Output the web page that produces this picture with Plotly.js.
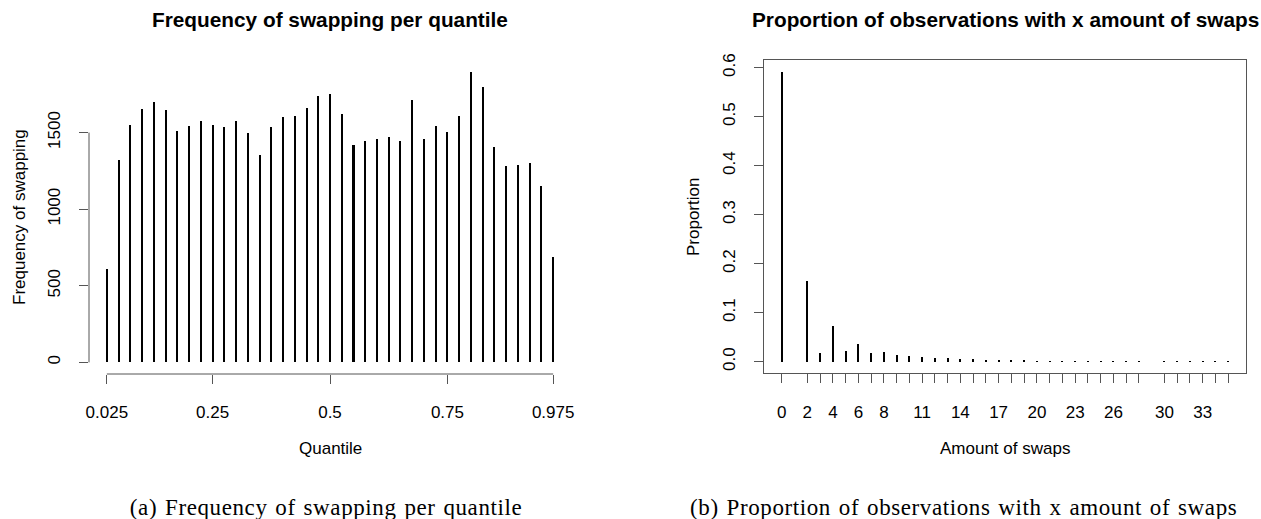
<!DOCTYPE html>
<html>
<head>
<meta charset="utf-8">
<script src="https://cdn.plot.ly/plotly-3.0.1.min.js"></script>
<style>
  html, body { margin: 0; padding: 0; background: #fff; }
  #chart { width: 1261px; height: 519px; }
  /* wider set for the serif sub-figure captions */
  #chart text.annotation-text[data-unformatted^="("] { letter-spacing: 0.6px; word-spacing: 1.5px; }
</style>
</head>
<body>
<div id="chart"></div>
<script>
// Panel (a): swapping frequency per quantile
const quantiles = [0.025, 0.05, 0.075, 0.1, 0.125, 0.15, 0.175, 0.2, 0.225, 0.25,
                   0.275, 0.3, 0.325, 0.35, 0.375, 0.4, 0.425, 0.45, 0.475, 0.5,
                   0.525, 0.55, 0.575, 0.6, 0.625, 0.65, 0.675, 0.7, 0.725, 0.75,
                   0.775, 0.8, 0.825, 0.85, 0.875, 0.9, 0.925, 0.95, 0.975];
const swapFrequency = [608, 1319, 1552, 1656, 1700, 1650, 1508, 1543, 1578, 1552,
                       1537, 1578, 1495, 1352, 1537, 1600, 1606, 1663, 1742, 1754,
                       1624, 1422, 1445, 1458, 1471, 1445, 1715, 1458, 1543, 1502,
                       1606, 1898, 1798, 1409, 1282, 1289, 1302, 1154, 687];
const quantileTicks = [0.025, 0.25, 0.5, 0.75, 0.975];
const quantileTickText = ['0.025', '0.25', '0.5', '0.75', '0.975'];
const frequencyTicks = [0, 500, 1000, 1500];

// Panel (b): share of observations by number of swaps
const swapCounts = [0, 2, 3, 4, 5, 6, 7, 8, 9, 10, 11, 12, 13, 14, 15, 16, 17, 18,
                    19, 20, 21, 22, 23, 24, 25, 26, 27, 28, 30, 31, 32, 33, 34, 35];
const swapProportion = [0.592, 0.164, 0.018, 0.073, 0.022, 0.036, 0.018, 0.020,
                        0.013, 0.011, 0.009, 0.008, 0.007, 0.006, 0.005, 0.004,
                        0.0035, 0.003, 0.003, 0.002, 0.0015, 0.0012, 0.0012, 0.001,
                        0.001, 0.001, 0.001, 0.001, 0.001, 0.001, 0.001, 0.001,
                        0.001, 0.001];
const swapTickText = ['0', '2', '', '4', '', '6', '', '8', '', '', '11', '', '',
                      '14', '', '', '17', '', '', '20', '', '', '23', '', '', '26',
                      '', '', '30', '', '', '33', '', ''];
const proportionTicks = [0, 0.1, 0.2, 0.3, 0.4, 0.5, 0.6];

const W = 1261, H = 519;
const SANS = 'Liberation Sans, Arial, sans-serif';
const SERIF = 'Liberation Serif, Times New Roman, serif';
const AXIS_COLOR = '#555';

// plot regions in pixels
const leftBox = { x0: 89, x1: 571, y0: 60, y1: 374 };
const rightBox = { x0: 764, x1: 1246, y0: 60, y1: 373.3 };
const px = v => v / W;
const py = v => 1 - v / H;

// R-style 4% padding around the data range
function padded(lo, hi) {
  const d = (hi - lo) * 0.04;
  return [lo - d, hi + d];
}

const tickFont = { family: SANS, size: 17, color: '#000' };
const commonAxis = {
  showgrid: false, zeroline: false, ticks: 'outside', ticklen: 9,
  tickwidth: 1, tickcolor: AXIS_COLOR, tickfont: tickFont, fixedrange: true
};

const traces = [
  {
    type: 'bar', x: quantiles, y: swapFrequency, xaxis: 'x', yaxis: 'y',
    width: 0.0043, marker: { color: '#000', line: { width: 0 } }, hoverinfo: 'x+y'
  },
  {
    type: 'bar', x: swapCounts, y: swapProportion, xaxis: 'x2', yaxis: 'y2',
    width: 0.17, marker: { color: '#000', line: { width: 0 } }, hoverinfo: 'x+y'
  }
];

const layout = {
  width: W, height: H,
  margin: { l: 0, r: 0, t: 0, b: 0 },
  paper_bgcolor: '#fff', plot_bgcolor: '#fff',
  showlegend: false, bargap: 0,
  xaxis: Object.assign({}, commonAxis, {
    domain: [px(leftBox.x0), px(leftBox.x1)], anchor: 'y',
    range: padded(quantiles[0], quantiles[quantiles.length - 1]),
    tickmode: 'array', tickvals: quantileTicks, ticktext: quantileTickText,
    showline: false, ticklabelstandoff: 14
  }),
  yaxis: Object.assign({}, commonAxis, {
    domain: [py(leftBox.y1), py(leftBox.y0)], anchor: 'x',
    range: padded(0, Math.max(...swapFrequency)),
    tickmode: 'array', tickvals: frequencyTicks, ticktext: frequencyTicks.map(String),
    tickangle: -90, showline: false, ticklabelstandoff: 12
  }),
  xaxis2: Object.assign({}, commonAxis, {
    domain: [px(rightBox.x0), px(rightBox.x1)], anchor: 'y2',
    range: padded(swapCounts[0], swapCounts[swapCounts.length - 1]),
    tickmode: 'array', tickvals: swapCounts, ticktext: swapTickText,
    showline: true, mirror: true, linecolor: AXIS_COLOR, linewidth: 1,
    ticklabelstandoff: 14
  }),
  yaxis2: Object.assign({}, commonAxis, {
    domain: [py(rightBox.y1), py(rightBox.y0)], anchor: 'x2',
    range: padded(0, Math.max(...swapProportion)),
    tickmode: 'array', tickvals: proportionTicks,
    ticktext: proportionTicks.map(v => v.toFixed(1)),
    tickangle: -90, showline: true, mirror: true, linecolor: AXIS_COLOR, linewidth: 1,
    ticklabelstandoff: 12
  }),
  shapes: [
    // left panel axis lines span only the first to last tick
    {
      type: 'line', xref: 'x', yref: 'paper',
      x0: quantileTicks[0], x1: quantileTicks[quantileTicks.length - 1],
      y0: py(leftBox.y1), y1: py(leftBox.y1),
      line: { color: AXIS_COLOR, width: 1 }
    },
    {
      type: 'line', xref: 'paper', yref: 'y',
      x0: px(leftBox.x0), x1: px(leftBox.x0),
      y0: frequencyTicks[0], y1: frequencyTicks[frequencyTicks.length - 1],
      line: { color: AXIS_COLOR, width: 1 }
    }
  ],
  annotations: [
    { text: '<b>Frequency of swapping per quantile</b>', xref: 'paper', yref: 'paper',
      x: px((leftBox.x0 + leftBox.x1) / 2), y: py(19), xanchor: 'center', yanchor: 'middle',
      showarrow: false, font: { family: SANS, size: 20.8, color: '#000' } },
    { text: '<b>Proportion of observations with x amount of swaps</b>', xref: 'paper', yref: 'paper',
      x: px((rightBox.x0 + rightBox.x1) / 2), y: py(19), xanchor: 'center', yanchor: 'middle',
      showarrow: false, font: { family: SANS, size: 20.8, color: '#000' } },
    { text: 'Quantile', xref: 'paper', yref: 'paper',
      x: px((leftBox.x0 + leftBox.x1) / 2), y: py(448), xanchor: 'center', yanchor: 'middle',
      showarrow: false, font: { family: SANS, size: 17, color: '#000' } },
    { text: 'Amount of swaps', xref: 'paper', yref: 'paper',
      x: px((rightBox.x0 + rightBox.x1) / 2), y: py(448), xanchor: 'center', yanchor: 'middle',
      showarrow: false, font: { family: SANS, size: 17, color: '#000' } },
    { text: 'Frequency of swapping', xref: 'paper', yref: 'paper', textangle: -90,
      x: px(19), y: py(217), xanchor: 'center', yanchor: 'middle',
      showarrow: false, font: { family: SANS, size: 17, color: '#000' } },
    { text: 'Proportion', xref: 'paper', yref: 'paper', textangle: -90,
      x: px(693), y: py(217), xanchor: 'center', yanchor: 'middle',
      showarrow: false, font: { family: SANS, size: 17, color: '#000' } },
    { text: '(a) Frequency of swapping per quantile', xref: 'paper', yref: 'paper',
      x: px(325.5), y: py(507), xanchor: 'center', yanchor: 'middle',
      showarrow: false, font: { family: SERIF, size: 23, color: '#000' } },
    { text: '(b) Proportion of observations with x amount of swaps', xref: 'paper', yref: 'paper',
      x: px(964), y: py(507), xanchor: 'center', yanchor: 'middle',
      showarrow: false, font: { family: SERIF, size: 23, color: '#000' } }
  ]
};

Plotly.newPlot('chart', traces, layout, { staticPlot: true, displayModeBar: false });
</script>
</body>
</html>
